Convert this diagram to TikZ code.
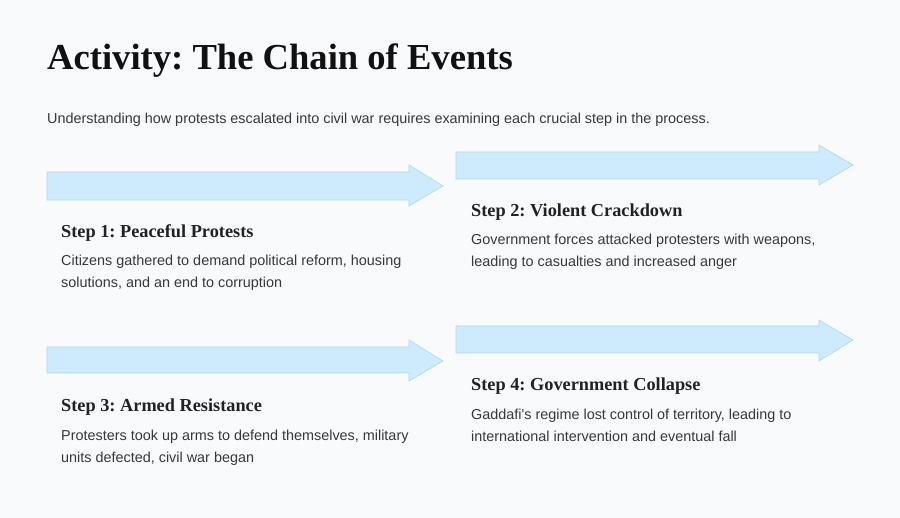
\documentclass[tikz,border=0pt]{standalone}
\usepackage{fontspec}
\setmainfont{Liberation Serif}
\newfontfamily\bodyfont{Liberation Sans}
\frenchspacing
\definecolor{bgc}{HTML}{F8FAFC}
\definecolor{arrfill}{HTML}{CDEBFC}
\definecolor{arrdraw}{HTML}{ABD9F3}
\definecolor{titlec}{HTML}{111111}
\definecolor{headc}{HTML}{222222}
\definecolor{bodyc}{HTML}{383838}
\tikzset{
  bigarrow/.style={fill=arrfill, draw=arrdraw, line width=0.6pt, line join=miter},
  titletext/.style={anchor=base west, inner sep=0pt, text=titlec, font=\frenchspacing\fontsize{36.6}{40}\selectfont\bfseries},
  subtext/.style={anchor=base west, inner sep=0pt, text=bodyc, font=\bodyfont\fontsize{14.4}{16}\selectfont},
  headtext/.style={anchor=base west, inner sep=0pt, text=headc, font=\frenchspacing\fontsize{18.3}{20}\selectfont\bfseries},
  bodytext/.style={anchor=base west, inner sep=0pt, text=bodyc, align=left, font=\bodyfont\fontsize{14.4}{22}\selectfont},
}
\begin{document}
\begin{tikzpicture}[x=1pt,y=1pt]
\fill[bgc] (0,0) rectangle (900,518);
\useasboundingbox (0,0) rectangle (900,518);
% arrows (y measured from top: y_tikz = 518 - y)
\draw[bigarrow] (47,346) -- (409,346) -- (409,353) -- (443,332) -- (409,312) -- (409,318) -- (47,318) -- cycle;
\draw[bigarrow] (456,366) -- (819,366) -- (819,373) -- (853,353) -- (819,333) -- (819,339) -- (456,339) -- cycle;
\draw[bigarrow] (47,171) -- (409,171) -- (409,178) -- (443,157) -- (409,137) -- (409,145) -- (47,145) -- cycle;
\draw[bigarrow] (456,192) -- (819,192) -- (819,198) -- (853,178) -- (819,157) -- (819,165) -- (456,165) -- cycle;
% texts
\node[titletext] (title) at (47,448) {Activity: The Chain of Events};
\node[subtext] (sub) at (47,394) {Understanding how protests escalated into civil war requires examining each crucial step in the process.};
\node[headtext] (h1) at (61,280) {Step 1: Peaceful Protests};
\node[bodytext] (b1) at (61,230) {Citizens gathered to demand political reform, housing\\solutions, and an end to corruption};
\node[headtext] (h2) at (471,301) {Step 2: Violent Crackdown};
\node[bodytext] (b2) at (471,251) {Government forces attacked protesters with weapons,\\leading to casualties and increased anger};
\node[headtext] (h3) at (61,106) {Step 3: Armed Resistance};
\node[bodytext] (b3) at (61,55) {Protesters took up arms to defend themselves, military\\units defected, civil war began};
\node[headtext] (h4) at (471,127) {Step 4: Government Collapse};
\node[bodytext] (b4) at (471,76) {Gaddafi's regime lost control of territory, leading to\\international intervention and eventual fall};
\end{tikzpicture}
\end{document}
